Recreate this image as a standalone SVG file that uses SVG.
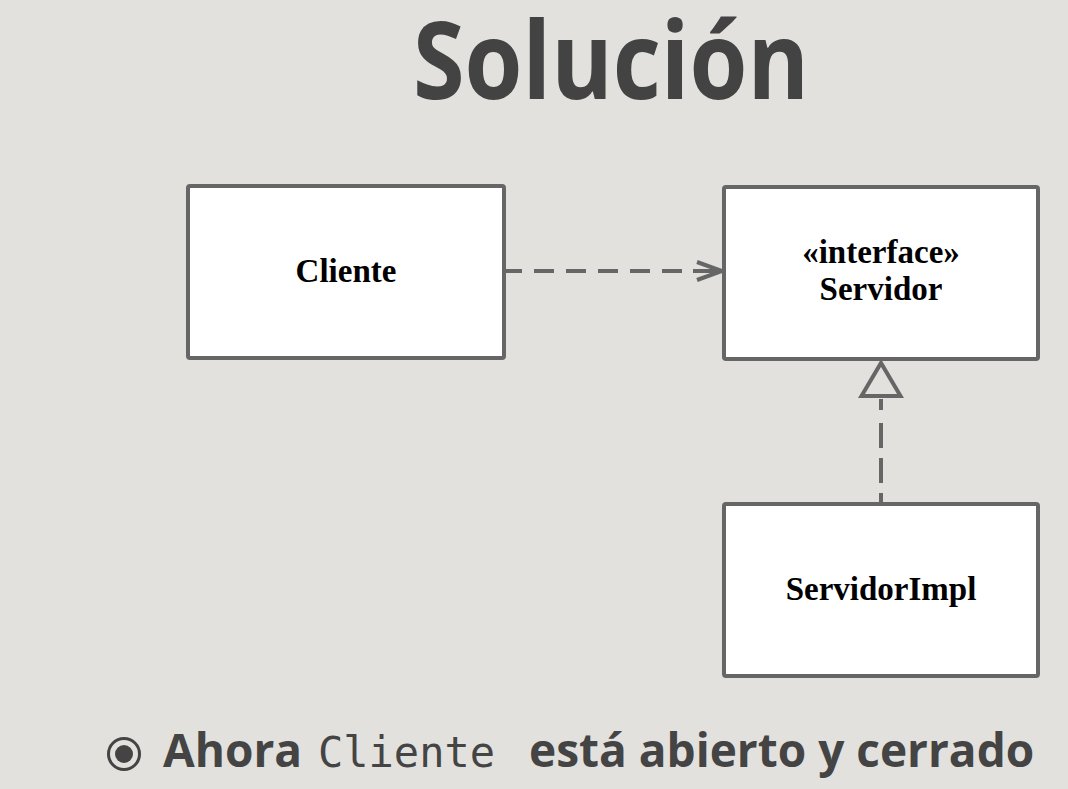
<svg xmlns="http://www.w3.org/2000/svg" width="1068" height="789" viewBox="0 0 1068 789">
  <style>
    .box { fill: #ffffff; stroke: #666666; stroke-width: 4; }
    .lbl { font-family: "Liberation Serif", "Times New Roman", serif; font-weight: bold; font-size: 33px; fill: #000000; text-anchor: middle; }
    .conn { fill: none; stroke: #666666; stroke-width: 4; }
    .title { font-family: "Open Sans", "Liberation Sans", sans-serif; font-weight: bold; font-size: 108px; fill: #434343; }
    .body { font-family: "Open Sans", "Liberation Sans", sans-serif; font-weight: bold; font-size: 46px; fill: #444444; }
    .mono { font-family: "DejaVu Sans Mono", "Liberation Mono", monospace; font-size: 42px; fill: #444444; }
  </style>
  <defs>
    <marker id="openArrow" markerUnits="userSpaceOnUse" viewBox="0 0 30 22" markerWidth="30" markerHeight="22" refX="27" refY="11" orient="auto">
      <path d="M 2 2 L 27 11 L 2 20" fill="none" stroke="#666666" stroke-width="4" stroke-linejoin="miter"/>
    </marker>
    <marker id="hollowTri" markerUnits="userSpaceOnUse" viewBox="-4 -24 42 48" markerWidth="42" markerHeight="48" refX="33" refY="0" orient="auto">
      <path d="M 0 -19.5 L 33 0 L 0 19.5 Z" fill="#e2e1dd" stroke="#666666" stroke-width="4" stroke-linejoin="miter"/>
    </marker>
  </defs>
  <rect x="0" y="0" width="1068" height="789" fill="#e2e1dd"/>
  <text class="title" x="413" y="99" textLength="396" lengthAdjust="spacingAndGlyphs">Solución</text>

  <g id="connectors">
    <path class="conn" d="M 504 271 H 722" stroke-dasharray="18 12 20 12 20 12 20 12 20 12 20 11 40" marker-end="url(#openArrow)"/>
    <path class="conn" d="M 881 504 V 363" stroke-dasharray="11 10 25 10 25 13 11 60" marker-end="url(#hollowTri)"/>
  </g>

  <g id="cliente">
    <rect class="box" x="188" y="186" width="316" height="172" rx="2"/>
    <text class="lbl" x="346" y="282">Cliente</text>
  </g>
  <g id="servidor">
    <rect class="box" x="724" y="187" width="314" height="172" rx="2"/>
    <text class="lbl" x="881" y="263">«interface»</text>
    <text class="lbl" x="881" y="300">Servidor</text>
  </g>
  <g id="servidorImpl">
    <rect class="box" x="724" y="504" width="314" height="172" rx="2"/>
    <text class="lbl" x="881" y="600">ServidorImpl</text>
  </g>

  <g id="bullet">
    <circle cx="124" cy="754" r="15.5" fill="none" stroke="#444444" stroke-width="3"/>
    <circle cx="124" cy="754" r="9" fill="#444444"/>
    <text class="body" x="163" y="767">Ahora</text>
    <text class="mono" x="318" y="767">Cliente</text>
    <text class="body" x="529" y="767">está abierto y cerrado</text>
  </g>
</svg>
